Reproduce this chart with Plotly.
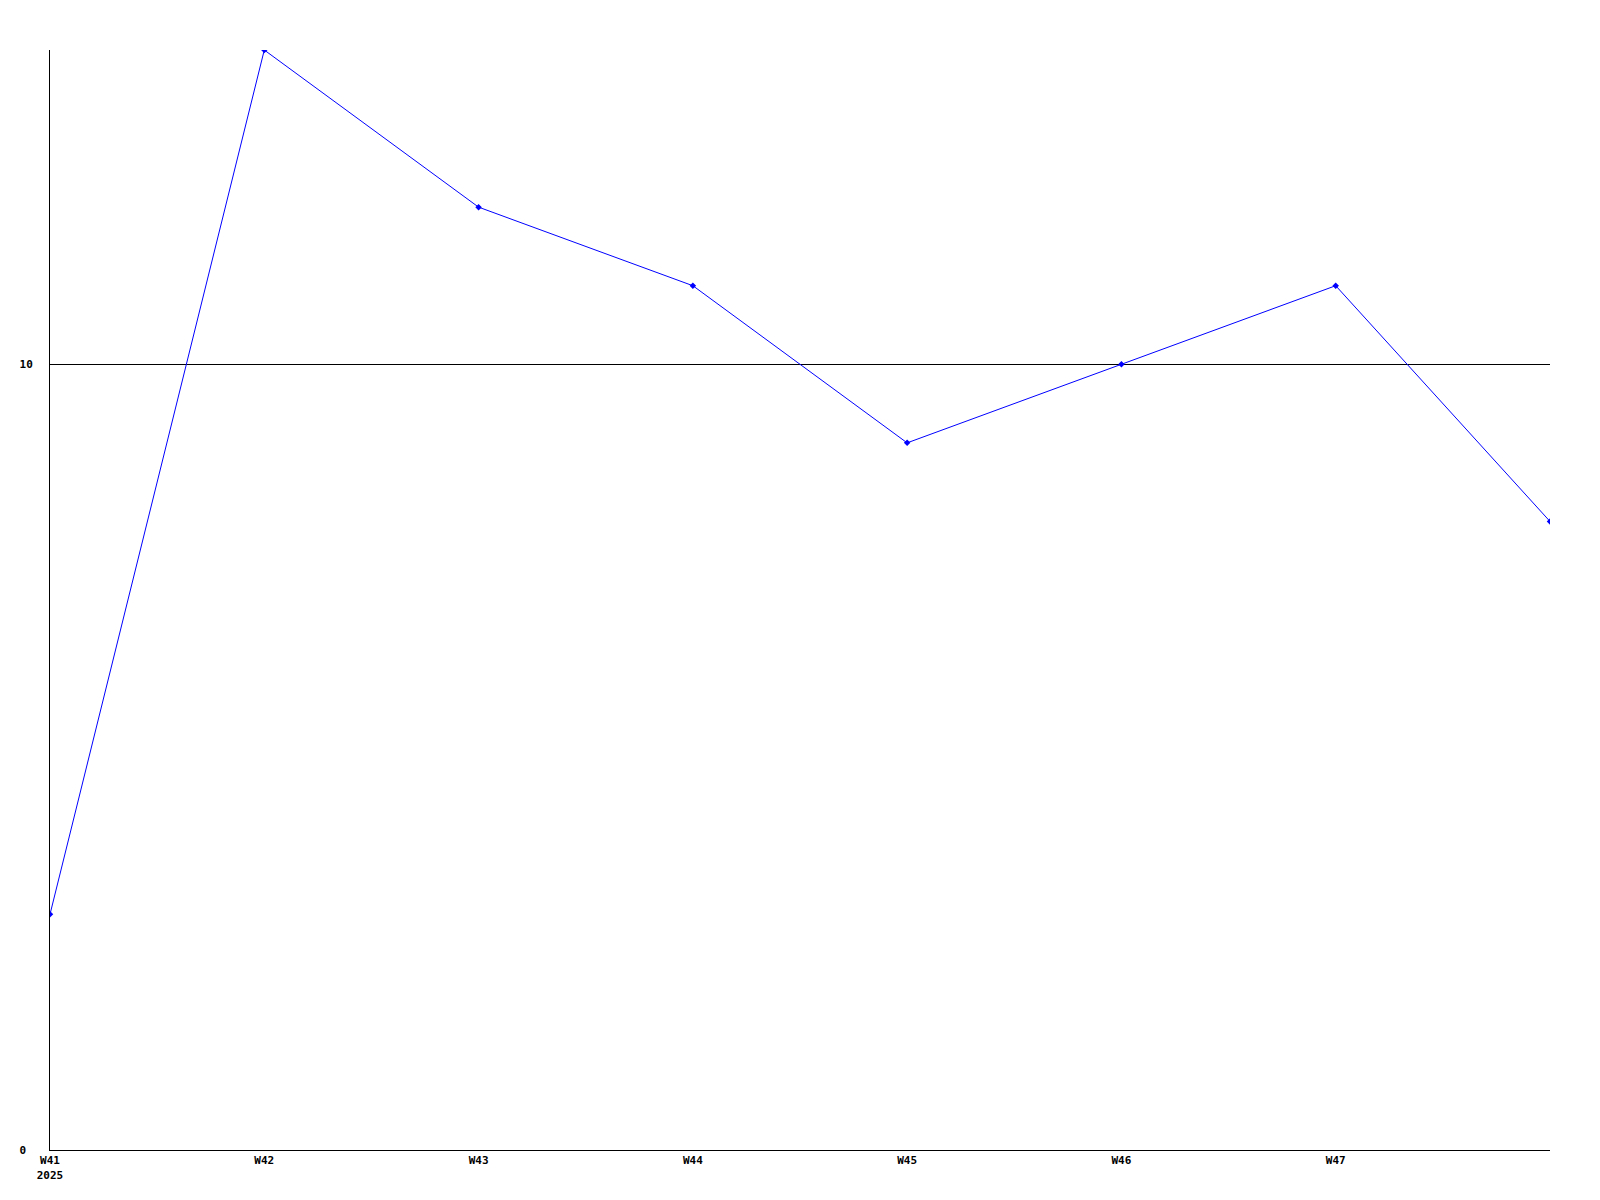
import plotly.graph_objects as go

weeks = ["W41", "W42", "W43", "W44", "W45", "W46", "W47", "W48"]
values = [3, 14, 12, 11, 9, 10, 11, 8]
tick_weeks = ["W41", "W42", "W43", "W44", "W45", "W46", "W47"]
tick_text = ["W41<br>2025", "W42", "W43", "W44", "W45", "W46", "W47"]
y_ticks = [0, 10]
y_tick_text = ["0\u00a0", "10"]

font = dict(family="DejaVu Sans Mono", size=11, color="black", weight="bold")

fig = go.Figure()
fig.add_trace(go.Scatter(
    x=weeks, y=values, mode="lines+markers",
    line=dict(color="#0000ff", width=1),
    marker=dict(symbol="diamond", size=5, color="#0000ff"),
    showlegend=False,
))

fig.update_layout(
    width=1600, height=1200,
    margin=dict(l=50, r=50, t=50, b=50),
    paper_bgcolor="white", plot_bgcolor="white",
    xaxis=dict(
        type="category", range=[0, 7],
        tickvals=tick_weeks, ticktext=tick_text,
        showgrid=False, zeroline=False,
        showline=True, linecolor="black", linewidth=1,
        ticks="", tickfont=font,
    ),
    yaxis=dict(
        range=[0, 14], tickvals=y_ticks, ticktext=y_tick_text,
        showgrid=True, gridcolor="black", gridwidth=1,
        zeroline=False,
        showline=True, linecolor="black", linewidth=1,
        ticks="", tickfont=font, ticklabelstandoff=14,
    ),
)

fig.write_html("out.html", config={"displayModeBar": False},
               post_script="document.body.style.margin='0';")
